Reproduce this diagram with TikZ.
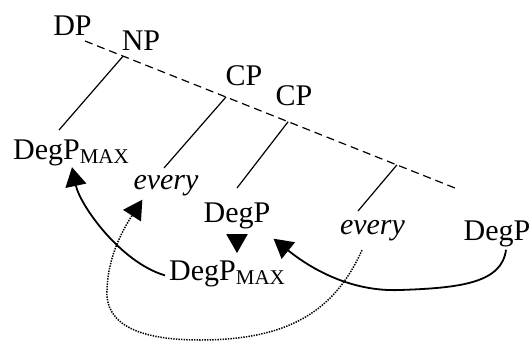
\documentclass[tikz,border=0pt]{standalone}
\usepackage{fontspec}
\setmainfont{Liberation Serif}
\usetikzlibrary{arrows.meta,calc}
\tikzset{
  lbl/.style={anchor=base,inner sep=0pt,font=\fontsize{30}{36}\selectfont},
  branch/.style={line width=1.2pt},
  spine/.style={line width=1.2pt,dash pattern=on 8pt off 5pt},
  move/.style={line width=1.8pt,-{Triangle[length=19pt,width=21pt]}},
  dotmove/.style={line width=1.5pt,dash pattern=on 1.4pt off 1.2pt,-{Triangle[length=19pt,width=21pt]}},
}
\newcommand{\maxsub}{{\fontsize{21}{21}\selectfont\raisebox{-4pt}{MAX}}}
\begin{document}
\begin{tikzpicture}[x=1pt,y=-1pt]
\useasboundingbox (0,0) rectangle (531,351);
% labels
\node[lbl] (dp)    at (72.5,35) {DP};
\node[lbl] (np)    at (141,50)  {NP};
\node[lbl] (cp1)   at (244,85)  {CP};
\node[lbl] (cp2)   at (294,105) {CP};
\node[lbl] (degpmaxl) at (71,159) {DegP\maxsub};
\node[lbl] (everyl)   at (166,189) {\itshape every};
\node[lbl] (degpm)    at (237,222) {DegP};
\node[lbl] (everyr)   at (372.5,234) {\itshape every};
\node[lbl] (degpr)    at (497,240) {DegP};
\node[lbl] (degpmaxb) at (227,280) {DegP\maxsub};
% spine
\coordinate (s0) at (85,41);
\coordinate (s1) at (455,188);
\draw[spine] (s0) -- (s1);
\coordinate (b1) at ($(s0)!0.103!(s1)$);
\coordinate (b2) at ($(s0)!0.381!(s1)$);
\coordinate (b3) at ($(s0)!0.549!(s1)$);
\coordinate (b4) at ($(s0)!0.843!(s1)$);
\coordinate (e1) at (59,130);
\coordinate (e2) at (164,168);
\coordinate (e3) at (237,188);
\coordinate (e4) at (358,211);
\draw[branch] (b1) -- (e1);
\draw[branch] (b2) -- (e2);
\draw[branch] (b3) -- (e3);
\draw[branch] (b4) -- (e4);
% movement arrows
\draw[move] ($(degpmaxb.west)+(-4,2)$) .. controls (120,262) and (80,205) .. ($(degpmaxl.south)+(1,1.5)$);
\draw[move] ($(degpr.south)+(9,3)$) .. controls (502,283) and (460,288) .. (400,290)
   .. controls (350,292) and (310,268) .. ($(degpm.south east)+(3,10)$);
\draw[dotmove] ($(everyr.south)+(-10.5,9.5)$) .. controls (335,310) and (290,340) .. (200,340)
   .. controls (140,340) and (105,325) .. (107,290)
   .. controls (108,255) and (124,228) .. ($(everyl.south west)+(9,4)$);
\draw[move,shorten <=6pt,shorten >=7pt] (degpm.south) -- (degpm.south |- degpmaxb.north);
\end{tikzpicture}
\end{document}
